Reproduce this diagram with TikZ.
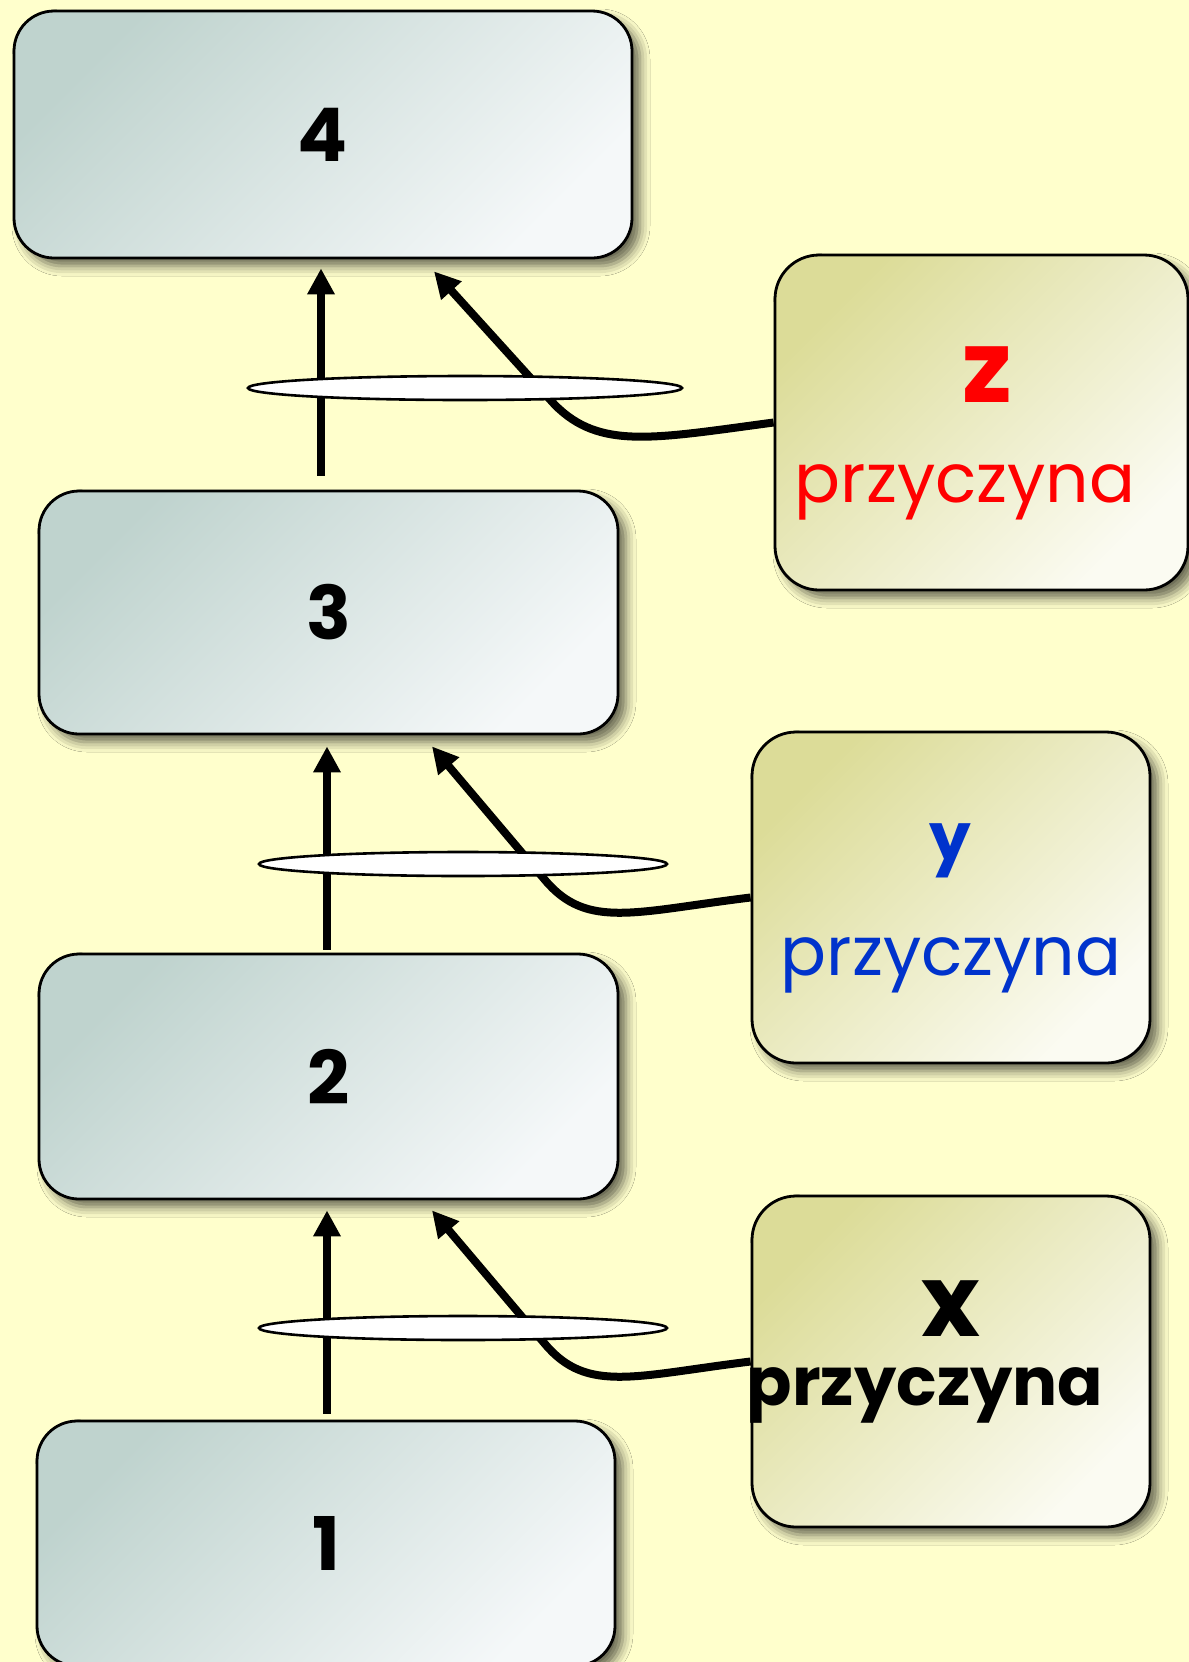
\documentclass[tikz,border=0pt]{standalone}
\usepackage{fontspec}
\setmainfont{Poppins}
\usetikzlibrary{arrows.meta,shapes.geometric,shadows.blur}
\definecolor{bgyellow}{HTML}{FFFFCC}
\definecolor{tealdark}{HTML}{BFD3CE}
\definecolor{teallight}{HTML}{F5F8F9}
\definecolor{yeldark}{HTML}{DCDC98}
\definecolor{yellight}{HTML}{FBFBF2}
\definecolor{causered}{HTML}{FF0000}
\definecolor{causeblue}{HTML}{0033CC}
\tikzset{
  shadowed/.style={blur shadow={shadow xshift=4pt,shadow yshift=-4pt,shadow blur radius=5pt,shadow opacity=60}},
  levelbox/.style={shadowed,draw=black,line width=1.4pt,rounded corners=20pt,inner sep=0pt,
    top color=tealdark,bottom color=teallight,shading angle=45,
    font=\bfseries\fontsize{37}{40}\selectfont},
  causebox/.style={shadowed,draw=black,line width=1.4pt,rounded corners=22pt,inner sep=0pt,
    top color=yeldark,bottom color=yellight,shading angle=45},
  arr/.style={line width=4pt,-{Triangle[length=13pt,width=13pt]}},
  ring/.style={ellipse,draw=black,line width=1.3pt,fill=white,inner sep=0pt,minimum height=12pt},
  bigletter/.style={anchor=base,inner sep=0pt,font=\bfseries\fontsize{50}{52}\selectfont},
  word/.style={anchor=base,inner sep=0pt,font=\fontsize{34}{36}\selectfont},
}
\begin{document}
\begin{tikzpicture}[x=0.5pt,y=-0.5pt]
\fill[bgyellow] (0,0) rectangle (1189,1662);
\useasboundingbox (0,0) rectangle (1189,1662);
% level boxes
\node[levelbox,minimum width=309pt,minimum height=123.5pt] (b4) at (323,134.5) {4};
\node[levelbox,minimum width=289.5pt,minimum height=121.5pt] (b3) at (328.5,612.5) {3};
\node[levelbox,minimum width=289.5pt,minimum height=122.5pt] (b2) at (328.5,1076.5) {2};
\node[levelbox,minimum width=289pt,minimum height=122.5pt] (b1) at (326,1543.5) {1};
% cause boxes
\node[causebox,minimum width=206.5pt,minimum height=167.5pt] (cz) at (981.5,422.5) {};
\node[causebox,minimum width=199pt,minimum height=165.5pt] (cy) at (951,897.5) {};
\node[causebox,minimum width=199pt,minimum height=165.5pt] (cx) at (951,1361.5) {};
% vertical arrows
\draw[arr] ([xshift=-3.75pt,yshift=7pt]b3.north) -- ([xshift=-1pt,yshift=-4.5pt]b4.south);
\draw[arr] ([xshift=-0.75pt,yshift=1.5pt]b2.north) -- ([xshift=-0.75pt,yshift=-5.5pt]b3.south);
\draw[arr] ([xshift=0.5pt,yshift=3pt]b1.north) -- ([xshift=-0.75pt,yshift=-5pt]b2.south);
% curved arrows from causes
\draw[arr] (cz.west) .. controls +(-120,16) and +(45,45) .. (555,405) -- ([xshift=55.5pt,yshift=-6pt]b4.south);
\draw[arr] (cy.west) .. controls +(-115,14) and +(42,50) .. (545,880) -- ([xshift=51.75pt,yshift=-5.5pt]b3.south);
\draw[arr] (cx.west) .. controls +(-115,14) and +(42,50) .. (545,1344) -- ([xshift=51.75pt,yshift=-5pt]b2.south);
% rings
\node[ring,minimum width=217pt] (e4) at (465,388) {};
\node[ring,minimum width=204pt] (e3) at (463,864) {};
\node[ring,minimum width=204pt] (e2) at (463,1328) {};
% texts
\node[bigletter,text=causered] (tz) at (987,402) {z};
\node[word,text=causered] (wz) at (965,502) {przyczyna};
\node[anchor=base,inner sep=0pt,font=\bfseries\fontsize{33}{35}\selectfont,text=causeblue] (ty) at (950,860) {y};
\node[word,text=causeblue] (wy) at (951,975) {przyczyna};
\node[bigletter] (tx) at (951,1336) {x};
\node[word,font=\bfseries\fontsize{33.5}{35}\selectfont] (wx) at (925,1405) {przyczyna};
\end{tikzpicture}
\end{document}
